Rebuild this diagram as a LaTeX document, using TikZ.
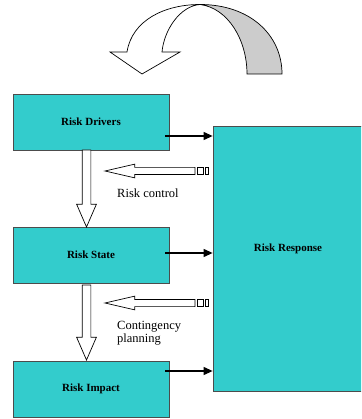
\documentclass[tikz,border=0pt]{standalone}
\usepackage{fontspec}
\setmainfont{Liberation Serif}
\usetikzlibrary{shapes.arrows,arrows.meta}

\definecolor{riskcyan}{RGB}{51,204,204}
\definecolor{tailgray}{RGB}{204,204,204}

\tikzset{
    riskbox/.style={draw=black!70, line width=0.8pt, fill=riskcyan, minimum width=156pt,
        minimum height=56pt, inner sep=0pt, font=\fontsize{11}{13}\selectfont\bfseries},
    downarrow/.style={single arrow, draw, fill=white, line width=0.7pt, shape border rotate=270,
        inner sep=4pt, single arrow head extend=5.5pt, single arrow tip angle=47, outer sep=0pt,
        anchor=tip},
    leftarrow/.style={single arrow, draw, fill=white, line width=0.7pt, shape border rotate=180,
        inner sep=3.25pt, single arrow head extend=3.25pt, single arrow tip angle=26,
        minimum height=90pt, outer sep=0pt, anchor=tip},
    stripe/.style={draw, fill=white, line width=0.6pt},
    flowarrow/.style={line width=1.1pt, -{Triangle[length=9pt,width=8pt]}},
    note/.style={font=\fontsize{12.5}{13.5}\selectfont, align=left, anchor=west, inner sep=0pt}
}

\begin{document}
\begin{tikzpicture}[x=1pt, y=-1pt]
    \useasboundingbox (0,0) rectangle (361,419);
    \clip (0,0) rectangle (361,419);

    % turning arrow on top
    \draw[fill=tailgray, line width=0.7pt] (282,74) .. controls (282,35) and (250,4.5) .. (200,4.5)
        .. controls (228,8) and (247,40) .. (247,74) -- cycle;
    \draw[fill=white, line width=0.7pt] (110,52) -- (127,52) .. controls (132,20) and (165,4.5) .. (200,4.5)
        .. controls (180,6) and (164,30) .. (162,52) -- (180,52) -- (142,74) -- cycle;

    % boxes
    \node[riskbox] (drv) at (91,122) {Risk Drivers};
    \node[riskbox] (state) at (91,255) {Risk State};
    \node[riskbox] (imp) at (91,389) {Risk Impact};
    \node[riskbox, minimum height=265pt,
        label={[yshift=9.5pt, xshift=-3pt, font=\fontsize{11}{13}\selectfont\bfseries]center:Risk Response}]
        (resp) at (291,258.5) {};

    % flow to the response
    \draw[flowarrow] ([xshift=-4pt, yshift=-14pt]drv.east) coordinate (d1) -- (d1 -| resp.west);
    \draw[flowarrow] ([xshift=-4pt, yshift=2pt]state.east) coordinate (d2) -- (d2 -| resp.west);
    \draw[flowarrow] ([xshift=-4pt, yshift=18pt]imp.east) coordinate (d3) -- (d3 -| resp.west);

    % downward block arrows
    \node[downarrow, minimum height=77pt] (drvstate) at (86.5,227) {};
    \node[downarrow, minimum height=75pt] (stateimp) at (86.5,360) {};

    % striped arrows from the response
    \node[leftarrow] (ctrl) at (105,171) {};
    \draw[stripe] (197,167.75) rectangle (203,174.25);
    \draw[stripe] (205,167.75) rectangle (208,174.25);
    \node[leftarrow] (cont) at (105,303) {};
    \draw[stripe] (197,299.75) rectangle (203,306.25);
    \draw[stripe] (205,299.75) rectangle (208,306.25);

    \node[note] (rc) at (117,193) {Risk control};
    \node[note] (cp) at (117,333) {Contingency\\planning};
\end{tikzpicture}
\end{document}
